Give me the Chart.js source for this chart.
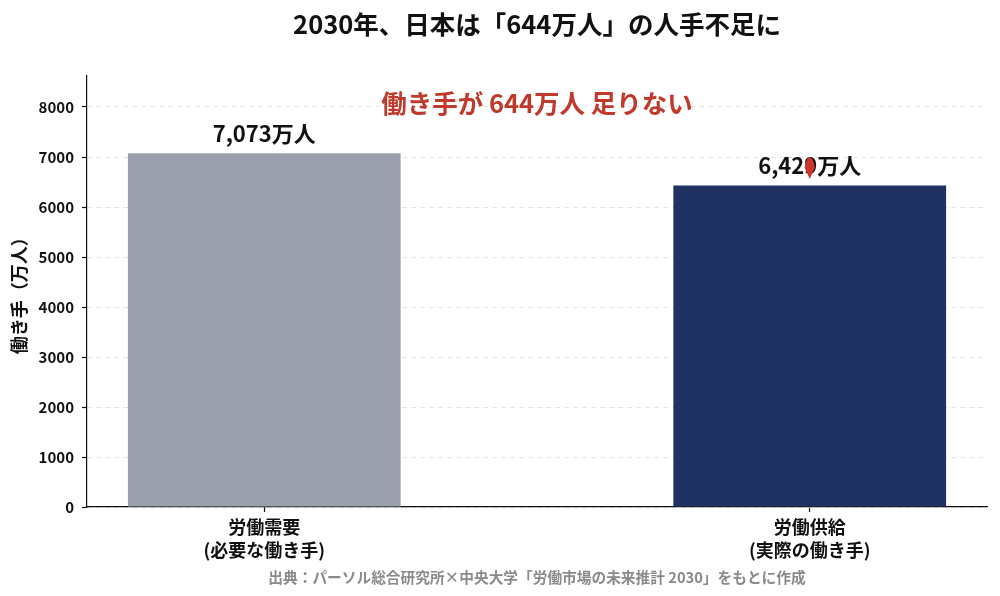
<!DOCTYPE html>
<html lang="ja">
<head>
<meta charset="utf-8">
<title>2030年の人手不足</title>
<script src="https://cdn.jsdelivr.net/npm/chart.js@4.4.1/dist/chart.umd.min.js"></script>
<style>
  html, body { margin: 0; padding: 0; background: #fff; }
  #wrap { width: 1000px; height: 596px; position: relative; }
</style>
</head>
<body>
<div id="wrap"><canvas id="laborChart"></canvas></div>
<script>
// Data
const categories = [['労働需要', '(必要な働き手)'], ['労働供給', '(実際の働き手)']];
const workers = [7073, 6429];
const valueLabels = ['7,073万人', '6,429万人'];
const barColors = ['#9aa1ac', '#1f3263'];
const yTicks = [0, 1000, 2000, 3000, 4000, 5000, 6000, 7000, 8000];
const gapLabel = '働き手が 644万人 足りない';
const gapArrow = [7000, 6560];   // arrow head span (万人)

const FONT = '"Noto Sans CJK JP", "Noto Sans", sans-serif';

// title, gap note, value labels, arrow, source
const overlayPlugin = {
    id: 'overlay',
    afterDatasetsDraw(chart) {
        const ctx = chart.ctx;
        const area = chart.chartArea;
        const xs = chart.scales.x, ys = chart.scales.y;
        const midX = (area.left + area.right) / 2;
        ctx.save();
        ctx.textAlign = 'center';
        ctx.textBaseline = 'middle';

        // value labels on top of bars
        ctx.font = 'bold 22px ' + FONT;
        ctx.fillStyle = '#111';
        chart.getDatasetMeta(0).data.forEach((bar, i) => {
            ctx.fillText(valueLabels[i], bar.x, bar.y - 20);
        });

        // arrow head
        const ax = xs.getPixelForValue(1);
        const top = ys.getPixelForValue(gapArrow[0]);
        const bot = ys.getPixelForValue(gapArrow[1]);
        const mid = (top + bot) / 2;
        ctx.fillStyle = '#c9372c';
        ctx.beginPath();
        ctx.moveTo(ax, top);
        ctx.bezierCurveTo(ax + 3, top + 1, ax + 5, mid - 4, ax + 5, mid);
        ctx.lineTo(ax, bot);
        ctx.lineTo(ax - 5, mid);
        ctx.bezierCurveTo(ax - 5, mid - 4, ax - 3, top + 1, ax, top);
        ctx.closePath();
        ctx.fill();

        // gap note
        ctx.font = 'bold 25.5px ' + FONT;
        ctx.fillStyle = '#c0392b';
        ctx.fillText(gapLabel, midX, 103);

        // title
        ctx.font = 'bold 25.5px ' + FONT;
        ctx.fillStyle = '#111';
        ctx.fillText('2030年、日本は「644万人」の人手不足に', midX, 24);

        // source
        ctx.font = 'bold 14.7px ' + FONT;
        ctx.fillStyle = '#8a8a8a';
        ctx.fillText('出典：パーソル総合研究所×中央大学「労働市場の未来推計 2030」をもとに作成', midX, 577);
        ctx.restore();
    }
};

const ctx = document.getElementById('laborChart').getContext('2d');
const laborChart = new Chart(ctx, {
    type: 'bar',
    data: {
        datasets: [{
            data: workers.map((v, i) => ({ x: i, y: v })),
            backgroundColor: barColors,
            borderWidth: 0,
            barPercentage: 0.5,
            categoryPercentage: 1.0
        }]
    },
    options: {
        responsive: true,
        maintainAspectRatio: false,
        animation: false,
        devicePixelRatio: 1,
        layout: { padding: { top: 75.5, right: 13, left: 0, bottom: 0 } },
        plugins: {
            legend: { display: false },
            tooltip: { enabled: false }
        },
        scales: {
            x: {
                type: 'linear',
                min: -0.325,
                max: 1.325,
                offset: false,
                afterBuildTicks(scale) {
                    scale.ticks = categories.map((c, i) => ({ value: i }));
                },
                afterFit(scale) { scale.height = 89; },
                grid: {
                    offset: false,
                    drawOnChartArea: false,
                    drawTicks: true,
                    tickLength: 5,
                    tickColor: '#111',
                    tickWidth: 1.2
                },
                border: { display: true, color: '#111', width: 1.2 },
                ticks: {
                    padding: 4,
                    maxRotation: 0,
                    autoSkip: false,
                    color: '#111',
                    font: { family: FONT, size: 18, weight: 'bold', lineHeight: 1.25 },
                    callback: (v) => categories[v] || ''
                }
            },
            y: {
                min: 0,
                max: 8630,
                afterBuildTicks(scale) {
                    scale.ticks = yTicks.map(v => ({ value: v }));
                },
                afterFit(scale) { scale.width = 87; },
                grid: {
                    color: '#e4e4e4',
                    lineWidth: 1,
                    drawTicks: true,
                    tickLength: 5,
                    tickColor: '#111',
                    tickWidth: 1.2,
                    tickBorderDash: []
                },
                border: { display: true, color: '#111', width: 1.2, dash: [5, 4] },
                ticks: {
                    padding: 8,
                    color: '#111',
                    font: { family: FONT, size: 15, weight: 'bold' },
                    callback: (v) => String(v)
                },
                title: {
                    display: true,
                    text: '働き手（万人）',
                    color: '#111',
                    padding: { top: 8, bottom: 0 },
                    font: { family: FONT, size: 18, weight: 'bold' }
                }
            }
        }
    },
    plugins: [overlayPlugin]
});
</script>
</body>
</html>
